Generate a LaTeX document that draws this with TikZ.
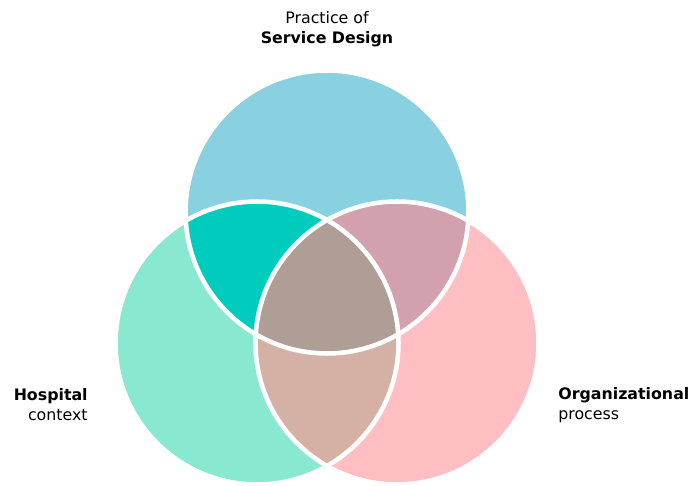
\documentclass[tikz,border=0pt]{standalone}
\usepackage{fontspec}
\setmainfont{DejaVu Sans}

\definecolor{designBlue}{RGB}{137,208,224}
\definecolor{hospitalGreen}{RGB}{137,232,208}
\definecolor{processPink}{RGB}{255,190,194}
\definecolor{designHospital}{RGB}{0,204,189}
\definecolor{designProcess}{RGB}{211,161,173}
\definecolor{hospitalProcess}{RGB}{213,176,165}
\definecolor{allThree}{RGB}{175,158,150}

\begin{document}
\begin{tikzpicture}[x=0.02cm, y=-0.02cm,
        settext/.style={font=\fontsize{9}{11.3}\selectfont, inner sep=0pt}]
        \def\rad{2.83cm}
        \def\gap{2.6pt}

        \useasboundingbox (0,0) rectangle (689,486);

        \coordinate (S) at (327,212);
        \coordinate (H) at (257,343);
        \coordinate (O) at (397,343);

        \fill[designBlue] (S) circle (\rad);
        \fill[hospitalGreen] (H) circle (\rad);
        \fill[processPink] (O) circle (\rad);
        \begin{scope}
            \clip (H) circle (\rad);
            \fill[hospitalProcess] (O) circle (\rad);
        \end{scope}
        \begin{scope}
            \clip (S) circle (\rad);
            \fill[designHospital] (H) circle (\rad);
            \fill[designProcess] (O) circle (\rad);
            \clip (H) circle (\rad);
            \fill[allThree] (O) circle (\rad);
        \end{scope}
        \foreach \c in {S,H,O}
            \draw[white, line width=\gap] (\c) circle (\rad);

        \node[settext, align=center] (design) at (327,29) {Practice of\\\textbf{Service Design}};
        \node[settext, align=right, anchor=east] (hospital) at (88,405) {\textbf{Hospital}\\context};
        \node[settext, align=left, anchor=west] (process) at (558,405) {\textbf{Organizational}\\process};
    \end{tikzpicture}
\end{document}
